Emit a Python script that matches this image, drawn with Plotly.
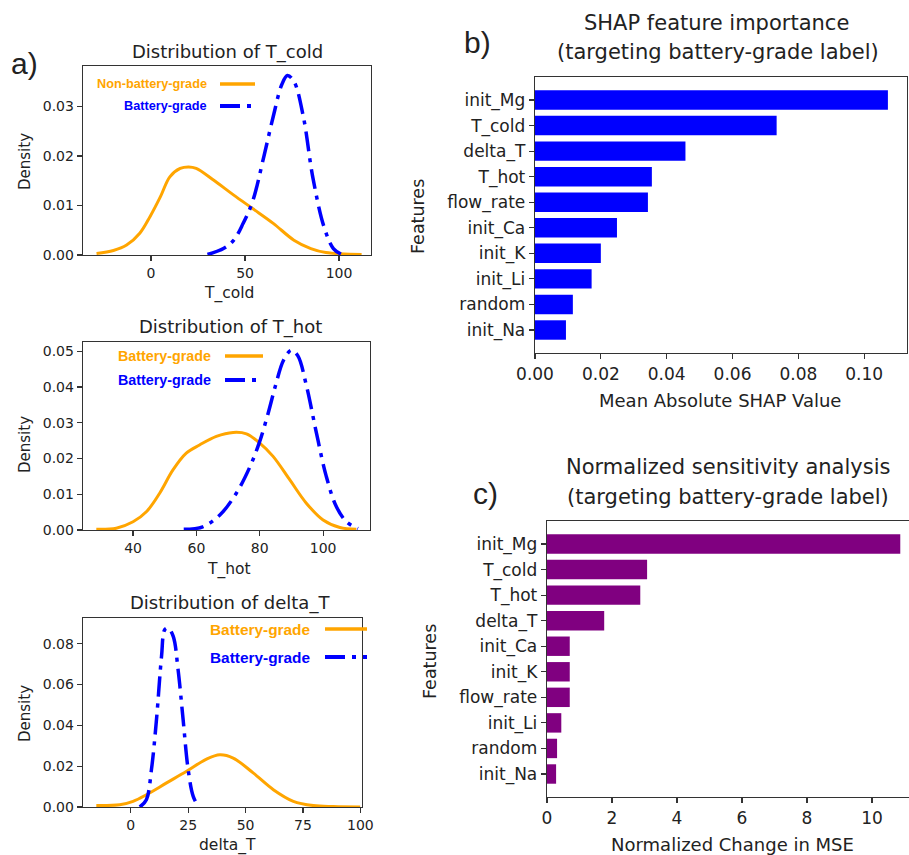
import plotly.graph_objects as go

W, H = 909, 855

# ---------------- Panel a: density curves ----------------
tcold_non_x = [-29, -20, -13, -6, -0.5, 5, 10, 15.5, 20, 24, 33, 44, 54, 65, 76, 85, 93, 112]
tcold_non_y = [0.0003, 0.0009, 0.002, 0.0044, 0.0078, 0.0118, 0.0158, 0.0175, 0.0178, 0.0175,
               0.0152, 0.0121, 0.0094, 0.0064, 0.003, 0.0013, 0.0005, 0.0001]
tcold_bat_x = [30, 38.5, 44, 49, 54, 60, 65, 69.5, 72.5, 76, 81, 86, 92, 97, 101]
tcold_bat_y = [0.0001, 0.0013, 0.003, 0.0064, 0.0108, 0.0199, 0.028, 0.0344, 0.0363, 0.0351,
               0.028, 0.0158, 0.0057, 0.0013, 0.0002]

thot_non_x = [28.4, 34.7, 40, 44.2, 48.4, 52.6, 56.8, 61, 66.3, 71.6, 75.8, 80, 84.2, 89.5, 94.7, 100, 105.3, 110.5]
thot_non_y = [0.0002, 0.0005, 0.0023, 0.0051, 0.0103, 0.0168, 0.0215, 0.0238, 0.0262, 0.0273,
              0.0269, 0.0243, 0.0206, 0.014, 0.0075, 0.0028, 0.0007, 0.0002]
thot_bat_x = [56, 62, 67.4, 72.6, 76.8, 79.8, 82.5, 85, 87.5, 90, 92, 94.7, 97.9, 101, 104.2, 107.4, 111]
thot_bat_y = [0.0002, 0.0009, 0.0042, 0.0103, 0.0175, 0.0243, 0.0322, 0.0405, 0.0475, 0.0503,
              0.0488, 0.0405, 0.0271, 0.015, 0.0065, 0.0023, 0.0004]

dT_non_x = [-15, -4.8, 1, 6.8, 15.6, 24.3, 33, 38.8, 44.6, 53.3, 62.1, 70.8, 79.5, 88.2, 99.9]
dT_non_y = [0.0007, 0.0011, 0.0028, 0.006, 0.0118, 0.0175, 0.0235, 0.0256, 0.024, 0.0167,
            0.0085, 0.0028, 0.0007, 0.0002, 0.0]
dT_bat_x = [3.9, 6.8, 9, 11.2, 13.4, 14.8, 16.3, 18.5, 20.6, 22.8, 25, 27.2, 29.4]
dT_bat_y = [0.0, 0.0036, 0.0183, 0.0428, 0.0738, 0.0869, 0.0877, 0.0836, 0.0673, 0.0428,
            0.0183, 0.0052, 0.0003]

# ---------------- Panel b: SHAP ----------------
shap_features = ["init_Mg", "T_cold", "delta_T", "T_hot", "flow_rate",
                 "init_Ca", "init_K", "init_Li", "random", "init_Na"]
shap_values = [0.1072, 0.0734, 0.0457, 0.0355, 0.0343, 0.0249, 0.0200, 0.0172, 0.0115, 0.0094]

# ---------------- Panel c: sensitivity ----------------
sens_features = ["init_Mg", "T_cold", "T_hot", "delta_T", "init_Ca",
                 "init_K", "flow_rate", "init_Li", "random", "init_Na"]
sens_values = [10.87, 3.08, 2.87, 1.76, 0.70, 0.70, 0.70, 0.44, 0.31, 0.28]

ORANGE = "#FFA500"
BLUE = "#0000FF"
PURPLE = "#800080"
DASHDOT = "20px,7px,4px,7px"


def px(x):
    return x / W


def py(y):
    return 1 - y / H


fig = go.Figure()

curves = [
    ("x", "y", tcold_non_x, tcold_non_y, tcold_bat_x, tcold_bat_y),
    ("x2", "y2", thot_non_x, thot_non_y, thot_bat_x, thot_bat_y),
    ("x3", "y3", dT_non_x, dT_non_y, dT_bat_x, dT_bat_y),
]
for xa, ya, nx, ny, bx, by in curves:
    fig.add_trace(go.Scatter(x=nx, y=ny, mode="lines", xaxis=xa, yaxis=ya,
                             line=dict(color=ORANGE, width=3, shape="spline", smoothing=1.0),
                             showlegend=False, hoverinfo="skip"))
    fig.add_trace(go.Scatter(x=bx, y=by, mode="lines", xaxis=xa, yaxis=ya,
                             line=dict(color=BLUE, width=3.5, dash=DASHDOT, shape="spline", smoothing=1.0),
                             showlegend=False, hoverinfo="skip"))

fig.add_trace(go.Bar(x=shap_values, y=shap_features, orientation="h", xaxis="x4", yaxis="y4",
                     marker=dict(color=BLUE, line=dict(width=0)), width=0.76, showlegend=False))
fig.add_trace(go.Bar(x=sens_values, y=sens_features, orientation="h", xaxis="x5", yaxis="y5",
                     marker=dict(color=PURPLE, line=dict(width=0)), width=0.76, showlegend=False))

TXT = "#222222"
AX = "#333333"


def axis(dom, rng, tickvals=None, ticktext=None, fsize=14, mirror=True, **kw):
    d = dict(domain=dom, range=rng, showline=True, linecolor=AX, linewidth=1.3, mirror=mirror,
             ticks="outside", ticklen=5, tickwidth=1.2, tickcolor=AX, showgrid=False,
             zeroline=False, automargin=False,
             tickfont=dict(family="DejaVu Sans", size=fsize, color=TXT))
    if tickvals is not None:
        d["tickmode"] = "array"
        d["tickvals"] = tickvals
        if ticktext is not None:
            d["ticktext"] = ticktext
    d.update(kw)
    return d


# Panel boxes in pixel coordinates
a1 = (83, 371, 66, 255)
a2 = (83, 370, 342, 530)
a3 = (83, 362, 618, 807)
pb = (535, 907, 77, 353)
pc = (547, 909, 521, 797)


def xdom(b):
    return [px(b[0]), px(b[1])]


def ydom(b):
    return [py(b[3]), py(b[2])]


layout = dict(
    width=W, height=H, margin=dict(l=0, r=0, t=0, b=0, autoexpand=False),
    paper_bgcolor="white", plot_bgcolor="white", showlegend=False,
    bargap=0.2,
    xaxis=axis(xdom(a1), [-36.2, 117], [0, 50, 100], anchor="y"),
    yaxis=axis(ydom(a1), [0, 0.0382], [0, 0.01, 0.02, 0.03], ["0.00", "0.01", "0.02", "0.03"], anchor="x"),
    xaxis2=axis(xdom(a2), [24.2, 114.8], [40, 60, 80, 100], anchor="y2"),
    yaxis2=axis(ydom(a2), [0, 0.0526], [0, 0.01, 0.02, 0.03, 0.04, 0.05],
                ["0.00", "0.01", "0.02", "0.03", "0.04", "0.05"], anchor="x2"),
    xaxis3=axis(xdom(a3), [-20.8, 100.7], [0, 25, 50, 75, 100], anchor="y3"),
    yaxis3=axis(ydom(a3), [0, 0.0926], [0, 0.02, 0.04, 0.06, 0.08],
                ["0.00", "0.02", "0.04", "0.06", "0.08"], anchor="x3"),
    xaxis4=axis(xdom(pb), [0, 0.113], [0, 0.02, 0.04, 0.06, 0.08, 0.10],
                ["0.00", "0.02", "0.04", "0.06", "0.08", "0.10"], fsize=17, anchor="y4"),
    yaxis4=axis(ydom(pb), [9.9, -0.9], fsize=17, anchor="x4", type="category",
                categoryorder="array", categoryarray=shap_features),
    xaxis5=axis(xdom(pc), [0, (909 - 547) / 32.5], [0, 2, 4, 6, 8, 10], fsize=17, anchor="y5"),
    yaxis5=axis(ydom(pc), [9.9, -0.9], fsize=17, anchor="x5", type="category",
                categoryorder="array", categoryarray=sens_features, mirror=False),
)
fig.update_layout(**layout)

ann = []


def text(x, y, s, size, family="DejaVu Sans", color=TXT, angle=0, xanchor="center", bold=False):
    if bold:
        s = "<b>" + s + "</b>"
    ann.append(dict(x=px(x), y=py(y), xref="paper", yref="paper", text=s, showarrow=False,
                    font=dict(family=family, size=size, color=color), textangle=angle,
                    xanchor=xanchor, yanchor="middle"))


# Panel labels
text(24, 64, "a)", 30, family="Liberation Sans")
text(477, 42, "b)", 30, family="Liberation Sans")
text(485, 493, "c)", 30, family="Liberation Sans")

# Left titles & axis labels
text(228, 52, "Distribution of T_cold", 18)
text(230, 327, "Distribution of T_hot", 18)
text(230, 603, "Distribution of delta_T", 18)
text(229, 293, "T_cold", 15.5)
text(229, 569, "T_hot", 15.5)
text(227, 845, "delta_T", 15.5)
for yc in (162, 445, 714):
    text(25, yc, "Density", 15, angle=-90)

# Right titles & axis labels
text(716, 23, "SHAP feature importance", 21)
text(718, 52, "(targeting battery-grade label)", 21)
text(728, 467, "Normalized sensitivity analysis", 21)
text(728, 497, "(targeting battery-grade label)", 21)
text(720, 400, "Mean Absolute SHAP Value", 18)
text(732, 844, "Normalized Change in MSE", 18)
text(418, 217, "Features", 17.5, angle=-90)
text(430, 662, "Features", 17.5, angle=-90)

# Legends (text left, sample line right)
shapes = []
legends = [
    (209, 220, 255, 84, 106, "Non-battery-grade", "Battery-grade", 12.7),
    (213, 225, 263, 356, 380, "Battery-grade", "Battery-grade", 14.3),
    (313, 325, 367, 629, 657, "Battery-grade", "Battery-grade", 15.4),
]
for tx, l0, l1, y1, y2, s1, s2, fs in legends:
    text(tx, y1, s1, fs, family="Liberation Sans", color=ORANGE, xanchor="right", bold=True)
    text(tx, y2, s2, fs, family="Liberation Sans", color=BLUE, xanchor="right", bold=True)
    shapes.append(dict(type="line", xref="paper", yref="paper", x0=px(l0), x1=px(l1),
                       y0=py(y1), y1=py(y1), line=dict(color=ORANGE, width=3.5)))
    shapes.append(dict(type="line", xref="paper", yref="paper", x0=px(l0), x1=px(l1),
                       y0=py(y2), y1=py(y2), line=dict(color=BLUE, width=4, dash=DASHDOT)))

fig.update_layout(annotations=ann, shapes=shapes)

fig.write_html(
    "out.html",
    config={"displayModeBar": False, "staticPlot": True},
    post_script="document.body.style.margin='0px';document.body.style.padding='0px';"
                "document.body.style.overflow='hidden';",
)
